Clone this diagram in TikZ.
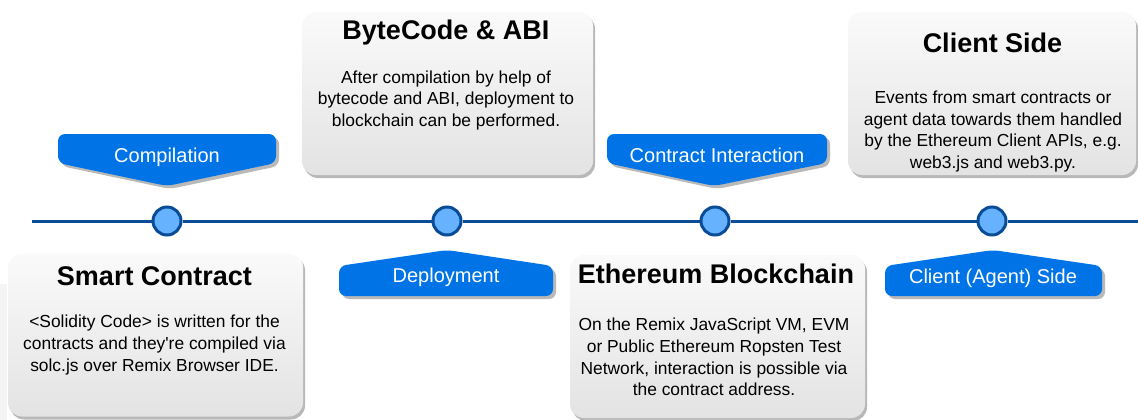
\documentclass[tikz,border=0pt]{standalone}
\usepackage{fontspec}
\setmainfont{Liberation Sans}
\usetikzlibrary{shadows}
\definecolor{tagblue}{HTML}{0074E6}
\definecolor{lineblue}{HTML}{0B4C96}
\definecolor{dotfill}{HTML}{66B2FF}
\tikzset{
  card/.style={rectangle, rounded corners=14pt, inner sep=0pt, minimum height=163pt, minimum width=#1,
    top color=gray!4, bottom color=gray!22,
    drop shadow={shadow xshift=2pt, shadow yshift=-3pt, fill=gray!70, opacity=.8}},
  cardtitle/.style={anchor=base, font=\fontsize{27}{31}\selectfont\bfseries},
  cardbody/.style={align=center, font=\fontsize{17.4}{21.6}\selectfont},
  tag/.style={fill=tagblue, rounded corners=7pt,
    drop shadow={shadow xshift=3pt, shadow yshift=-3pt, fill=gray!55, opacity=1}},
  tagtext/.style={anchor=base, text=white, font=\fontsize{20}{24}\selectfont},
  dot/.style={circle, inner sep=0pt, minimum size=28pt, fill=dotfill, draw=lineblue, line width=3pt},
  timeline/.style={draw=lineblue, line width=3pt}
}
\begin{document}
\begin{tikzpicture}[x=1pt, y=-1pt]
  \useasboundingbox (0,0) rectangle (1138,420);
  % edge of a card cut off at the left
  \fill[gray!9] (0,284) rectangle (7,420);

  % cards
  \node[card=295pt] (sc) at (155.5,335) {};
  \node[cardtitle] (sc-title) at (154.5,285) {Smart Contract};
  \node[cardbody] (sc-body) at (154.5,345) {<Solidity Code> is written for the\\contracts and they\textquotesingle re compiled via\\solc.js over Remix Browser IDE.};

  \node[card=291pt] (bc) at (447.5,93.5) {};
  \node[cardtitle] (bc-title) at (446,40) {ByteCode \& ABI};
  \node[cardbody] (bc-body) at (446,100.5) {After compilation by help of\\bytecode and ABI, deployment to\\blockchain can be performed.};

  \node[card=295pt] (eb) at (717.5,336.5) {};
  \node[cardtitle] (eb-title) at (716,283) {Ethereum Blockchain};
  \node[cardbody] (eb-body) at (714,357) {On the Remix JavaScript VM, EVM\\or Public Ethereum Ropsten Test\\Network, interaction is possible via\\the contract address.};

  \node[card=288pt] (cs) at (992,93.5) {};
  \node[cardtitle] (cs-title) at (992.5,53) {Client Side};
  \node[cardbody] (cs-body) at (993,131.5) {Events from smart contracts or\\agent data towards them handled\\by the Ethereum Client APIs, e.g.\\web3.js and web3.py.};

  % tags
  \fill[tag] (58,134) -- (276,134) -- (276,163) -- (167,186) -- (58,163) -- cycle;
  \node[tagtext] (t-compile) at (167,162) {Compilation};
  \fill[tag] (607,134) -- (827,134) -- (827,163) -- (714,186) -- (607,163) -- cycle;
  \node[tagtext] (t-interact) at (717,162) {Contract Interaction};
  \fill[tag] (339,296) -- (553,296) -- (553,266) -- (447,250) -- (339,266) -- cycle;
  \node[tagtext] (t-deploy) at (446,282) {Deployment};
  \fill[tag] (885,296) -- (1102,296) -- (1102,266) -- (993,250) -- (885,266) -- cycle;
  \node[tagtext] (t-client) at (993,283) {Client (Agent) Side};

  % timeline
  \node[dot] (d1) at (167,221) {};
  \node[dot] (d2) at (447,221) {};
  \node[dot] (d3) at (715,221) {};
  \node[dot] (d4) at (992,221) {};
  \coordinate (tl-start) at (32,221);
  \coordinate (tl-end) at (1138,221);
  \draw[timeline] (tl-start) -- (d1) -- (d2) -- (d3) -- (d4) -- (tl-end);
\end{tikzpicture}
\end{document}
